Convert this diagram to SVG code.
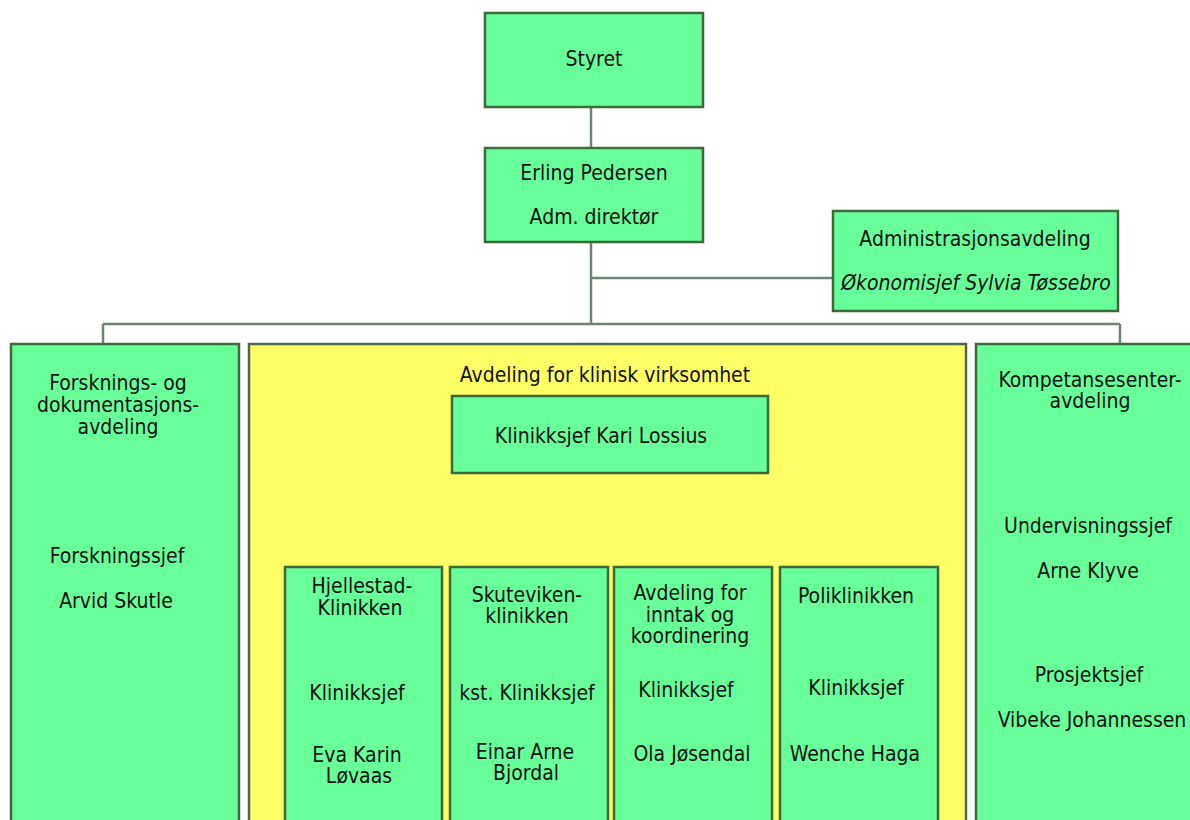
<svg xmlns="http://www.w3.org/2000/svg" width="1190" height="820" viewBox="0 0 1190 820">
<style>
text{font-family:"DejaVu Sans Condensed","DejaVu Sans",sans-serif;font-size:21px;fill:#111;text-anchor:middle}
.g{fill:#68ff9a;stroke:#3b6a3b;stroke-width:2.5}
.y{fill:#ffff66;stroke:#4a6a4a;stroke-width:2.5}
.c{fill:none;stroke:#6d866d;stroke-width:2.5}
.ci{fill:none;stroke:#3b5420;stroke-width:2.5}
</style>
<rect width="1190" height="820" fill="#fff"/>
<g id="connectors">
<path class="c" d="M591 107V148M591 242V324M591 278H833M103 324H1120M103 324V344M1120 324V344"/>
<path class="ci" d="M608 473V535M333 535H871M333 535V567M525 535V567M686 535V567M871 535V567"/>
</g>
<g id="styret"><rect class="g" x="485" y="13" width="218" height="94"/><text x="594" y="66">Styret</text></g>
<g id="direktor"><rect class="g" x="485" y="148" width="218" height="94"/><text x="594" y="180">Erling Pedersen</text><text x="594" y="224">Adm. direktør</text></g>
<g id="admin"><rect class="g" x="833" y="211" width="285" height="100"/><text x="975" y="246">Administrasjonsavdeling</text><text x="976" y="290" font-style="italic">Økonomisjef Sylvia Tøssebro</text></g>
<g id="forskning"><rect class="g" x="11" y="344" width="228" height="490"/><text x="118" y="390">Forsknings- og</text><text x="118" y="412">dokumentasjons-</text><text x="118" y="434">avdeling</text><text x="117" y="563">Forskningssjef</text><text x="116" y="608">Arvid Skutle</text></g>
<g id="klinisk"><rect class="y" x="249" y="344" width="717" height="490"/><text x="605" y="382">Avdeling for klinisk virksomhet</text></g>
<g id="klinikksjef"><rect class="g" x="452" y="396" width="316" height="77"/><text x="601" y="443">Klinikksjef Kari Lossius</text></g>
<g id="hjellestad"><rect class="g" x="285" y="567" width="157" height="260"/><text x="362" y="593">Hjellestad-</text><text x="360" y="615">Klinikken</text><text x="357" y="700">Klinikksjef</text><text x="357" y="762">Eva Karin</text><text x="359" y="783">Løvaas</text></g>
<g id="skuteviken"><rect class="g" x="450" y="567" width="158" height="260"/><text x="527" y="602">Skuteviken-</text><text x="527" y="623">klinikken</text><text x="527" y="700">kst. Klinikksjef</text><text x="525" y="759">Einar Arne</text><text x="526" y="780">Bjordal</text></g>
<g id="inntak"><rect class="g" x="614" y="567" width="158" height="260"/><text x="690" y="600">Avdeling for</text><text x="690" y="622">inntak og</text><text x="690" y="643">koordinering</text><text x="686" y="697">Klinikksjef</text><text x="692" y="761">Ola Jøsendal</text></g>
<g id="poliklinikken"><rect class="g" x="780" y="567" width="158" height="260"/><text x="856" y="603">Poliklinikken</text><text x="856" y="695">Klinikksjef</text><text x="855" y="761">Wenche Haga</text></g>
<g id="kompetanse"><rect class="g" x="976" y="344" width="230" height="490"/><text x="1090" y="387">Kompetansesenter-</text><text x="1090" y="408">avdeling</text><text x="1088" y="533">Undervisningssjef</text><text x="1088" y="578">Arne Klyve</text><text x="1089" y="682">Prosjektsjef</text><text x="1092" y="727">Vibeke Johannessen</text></g>
</svg>
